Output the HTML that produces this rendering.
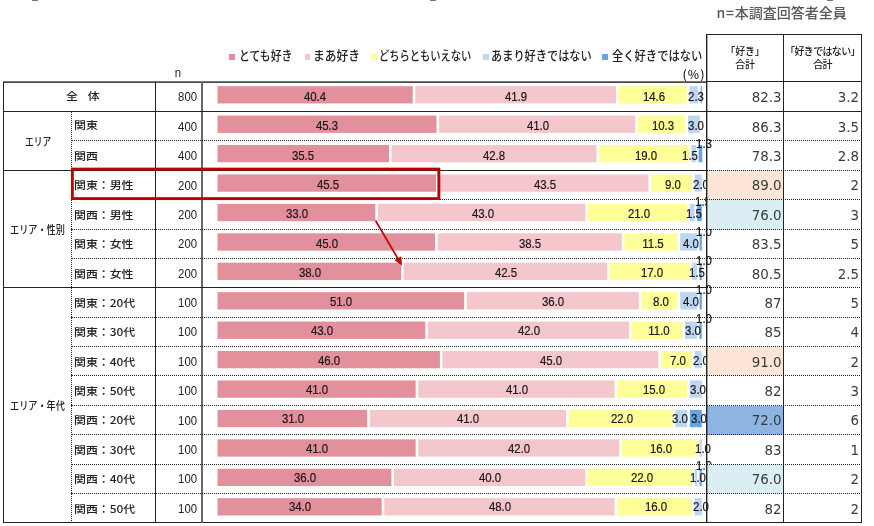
<!DOCTYPE html>
<html lang="ja"><head><meta charset="utf-8"><title>chart</title>
<style>
html,body{margin:0;padding:0;background:#fff;}
body{width:874px;height:526px;position:relative;overflow:hidden;font-family:"Liberation Sans","Noto Sans CJK JP",sans-serif;color:#222;}
.a{position:absolute;}
.lab{position:absolute;font-weight:500;font-family:"Noto Sans CJK JP","Liberation Sans",sans-serif;font-size:11px;line-height:14px;white-space:nowrap;color:#222;transform-origin:0 50%;}
.n{position:absolute;font-size:12.6px;line-height:14px;text-align:right;width:40px;color:#222;transform-origin:100% 50%;transform:scaleX(0.9);}
.seg{position:absolute;box-sizing:border-box;border-left:1px solid #fff;border-right:1px solid #fff;}
.v{position:absolute;font-size:12.7px;line-height:12px;white-space:nowrap;color:#1c1418;-webkit-text-stroke:0.2px #1c1418;transform:translateX(-50%) scaleX(0.9);}
.t{position:absolute;font-family:"DejaVu Sans","Liberation Sans",sans-serif;font-size:13.4px;line-height:16px;text-align:right;color:#3a3a3a;white-space:nowrap;}
.hl{position:absolute;background:#222;}
.dl{position:absolute;height:0;border-top:1px dotted #222;}
.dv{position:absolute;width:0;border-left:1px dotted #222;}
.lg{position:absolute;font-weight:500;font-family:"Noto Sans CJK JP","Liberation Sans",sans-serif;font-size:13px;line-height:16px;white-space:nowrap;color:#222;transform-origin:0 50%;}
.mk{position:absolute;width:5.6px;height:5.6px;}
</style></head><body>

<div class="a" style="left:32.2px;top:0;width:5.5px;height:1px;background:#777"></div>
<div class="a" style="left:430px;top:0;width:5.5px;height:1px;background:#777"></div>
<div class="a" style="left:827px;top:0;width:5.5px;height:1px;background:#777"></div>
<div class="lg" style="left:716.6px;top:4.3px;font-size:14px;color:#595959;letter-spacing:0" id="ntxt"><span style="letter-spacing:0.7px">n=</span>本調査回答者全員</div>
<svg class="a" style="left:0;top:0" width="874" height="526" viewBox="0 0 874 526">
<rect x="217.50" y="86.15" width="195.24" height="17.3" fill="#e2909b"/>
<rect x="415.34" y="86.15" width="200.61" height="17.3" fill="#f4c7cd"/>
<rect x="618.55" y="86.15" width="68.21" height="17.3" fill="#ffff99"/>
<rect x="689.36" y="86.15" width="8.55" height="17.3" fill="#bdd7f3"/>
<rect x="700.52" y="86.15" width="1.28" height="17.3" fill="#64a5ea"/>
<rect x="217.50" y="115.58" width="219.00" height="17.3" fill="#e2909b"/>
<rect x="439.11" y="115.58" width="196.25" height="17.3" fill="#f4c7cd"/>
<rect x="637.96" y="115.58" width="47.36" height="17.3" fill="#ffff99"/>
<rect x="687.91" y="115.58" width="11.95" height="17.3" fill="#bdd7f3"/>
<rect x="217.50" y="145.01" width="171.47" height="17.3" fill="#e2909b"/>
<rect x="391.57" y="145.01" width="204.98" height="17.3" fill="#f4c7cd"/>
<rect x="599.15" y="145.01" width="89.55" height="17.3" fill="#ffff99"/>
<rect x="691.30" y="145.01" width="4.67" height="17.3" fill="#bdd7f3"/>
<rect x="698.58" y="145.01" width="3.70" height="17.3" fill="#64a5ea"/>
<rect x="217.50" y="174.44" width="218.47" height="17.3" fill="#e2909b"/>
<rect x="438.57" y="174.44" width="209.87" height="17.3" fill="#f4c7cd"/>
<rect x="651.05" y="174.44" width="41.05" height="17.3" fill="#ffff99"/>
<rect x="694.70" y="174.44" width="7.10" height="17.3" fill="#bdd7f3"/>
<rect x="217.50" y="203.87" width="157.85" height="17.3" fill="#e2909b"/>
<rect x="377.95" y="203.87" width="207.45" height="17.3" fill="#f4c7cd"/>
<rect x="588.00" y="203.87" width="99.25" height="17.3" fill="#ffff99"/>
<rect x="689.85" y="203.87" width="4.67" height="17.3" fill="#bdd7f3"/>
<rect x="697.12" y="203.87" width="4.67" height="17.3" fill="#64a5ea"/>
<rect x="217.50" y="233.30" width="217.55" height="17.3" fill="#e2909b"/>
<rect x="437.65" y="233.30" width="184.12" height="17.3" fill="#f4c7cd"/>
<rect x="624.38" y="233.30" width="53.17" height="17.3" fill="#ffff99"/>
<rect x="680.15" y="233.30" width="16.80" height="17.3" fill="#bdd7f3"/>
<rect x="699.55" y="233.30" width="2.25" height="17.3" fill="#64a5ea"/>
<rect x="217.50" y="262.73" width="183.60" height="17.3" fill="#e2909b"/>
<rect x="403.70" y="262.73" width="203.52" height="17.3" fill="#f4c7cd"/>
<rect x="609.82" y="262.73" width="79.85" height="17.3" fill="#ffff99"/>
<rect x="692.27" y="262.73" width="4.67" height="17.3" fill="#bdd7f3"/>
<rect x="699.55" y="262.73" width="2.25" height="17.3" fill="#64a5ea"/>
<rect x="217.50" y="292.16" width="246.65" height="17.3" fill="#e2909b"/>
<rect x="466.75" y="292.16" width="172.00" height="17.3" fill="#f4c7cd"/>
<rect x="641.35" y="292.16" width="36.20" height="17.3" fill="#ffff99"/>
<rect x="680.15" y="292.16" width="16.80" height="17.3" fill="#bdd7f3"/>
<rect x="699.55" y="292.16" width="2.25" height="17.3" fill="#64a5ea"/>
<rect x="217.50" y="321.59" width="207.85" height="17.3" fill="#e2909b"/>
<rect x="427.95" y="321.59" width="201.10" height="17.3" fill="#f4c7cd"/>
<rect x="631.65" y="321.59" width="50.75" height="17.3" fill="#ffff99"/>
<rect x="685.00" y="321.59" width="11.95" height="17.3" fill="#bdd7f3"/>
<rect x="699.55" y="321.59" width="2.25" height="17.3" fill="#64a5ea"/>
<rect x="217.50" y="351.02" width="222.40" height="17.3" fill="#e2909b"/>
<rect x="442.50" y="351.02" width="215.65" height="17.3" fill="#f4c7cd"/>
<rect x="660.75" y="351.02" width="31.35" height="17.3" fill="#ffff99"/>
<rect x="694.70" y="351.02" width="7.10" height="17.3" fill="#bdd7f3"/>
<rect x="217.50" y="380.45" width="198.15" height="17.3" fill="#e2909b"/>
<rect x="418.25" y="380.45" width="196.25" height="17.3" fill="#f4c7cd"/>
<rect x="617.10" y="380.45" width="70.15" height="17.3" fill="#ffff99"/>
<rect x="689.85" y="380.45" width="11.95" height="17.3" fill="#bdd7f3"/>
<rect x="217.50" y="409.88" width="149.65" height="17.3" fill="#e2909b"/>
<rect x="369.75" y="409.88" width="196.25" height="17.3" fill="#f4c7cd"/>
<rect x="568.60" y="409.88" width="104.10" height="17.3" fill="#ffff99"/>
<rect x="675.30" y="409.88" width="11.95" height="17.3" fill="#bdd7f3"/>
<rect x="689.85" y="409.88" width="11.95" height="17.3" fill="#64a5ea"/>
<rect x="217.50" y="439.31" width="198.15" height="17.3" fill="#e2909b"/>
<rect x="418.25" y="439.31" width="201.10" height="17.3" fill="#f4c7cd"/>
<rect x="621.95" y="439.31" width="75.00" height="17.3" fill="#ffff99"/>
<rect x="699.55" y="439.31" width="2.25" height="17.3" fill="#bdd7f3"/>
<rect x="217.50" y="468.74" width="173.90" height="17.3" fill="#e2909b"/>
<rect x="394.00" y="468.74" width="191.40" height="17.3" fill="#f4c7cd"/>
<rect x="588.00" y="468.74" width="104.10" height="17.3" fill="#ffff99"/>
<rect x="694.70" y="468.74" width="2.25" height="17.3" fill="#bdd7f3"/>
<rect x="699.55" y="468.74" width="2.25" height="17.3" fill="#64a5ea"/>
<rect x="217.50" y="498.17" width="164.20" height="17.3" fill="#e2909b"/>
<rect x="384.30" y="498.17" width="230.20" height="17.3" fill="#f4c7cd"/>
<rect x="617.10" y="498.17" width="75.00" height="17.3" fill="#ffff99"/>
<rect x="694.70" y="498.17" width="7.10" height="17.3" fill="#bdd7f3"/>
</svg>
<div class="v" style="left:315.37px;top:91.00px">40.4</div>
<div class="v" style="left:515.95px;top:91.00px">41.9</div>
<div class="v" style="left:654.46px;top:91.00px">14.6</div>
<div class="v" style="left:695.94px;top:91.00px">2.3</div>
<div class="v" style="left:327.25px;top:120.31px">45.3</div>
<div class="v" style="left:537.53px;top:120.31px">41.0</div>
<div class="v" style="left:663.43px;top:120.31px">10.3</div>
<div class="v" style="left:696.19px;top:120.31px">3.0</div>
<div class="v" style="left:303.49px;top:149.62px">35.5</div>
<div class="v" style="left:494.37px;top:149.62px">42.8</div>
<div class="v" style="left:645.73px;top:149.62px">19.0</div>
<div class="v" style="left:690.30px;top:149.62px">1.5</div>
<div class="v" style="left:703.73px;top:137.62px">1.3</div>
<div class="v" style="left:327.74px;top:178.93px">45.5</div>
<div class="v" style="left:544.56px;top:178.93px">43.5</div>
<div class="v" style="left:673.38px;top:178.93px">9.0</div>
<div class="v" style="left:700.55px;top:178.93px">2.0</div>
<div class="v" style="left:297.43px;top:208.24px">33.0</div>
<div class="v" style="left:482.72px;top:208.24px">43.0</div>
<div class="v" style="left:639.42px;top:208.24px">21.0</div>
<div class="v" style="left:694.49px;top:208.24px">1.5</div>
<div class="v" style="left:702.76px;top:196.24px">1.5</div>
<div class="v" style="left:326.52px;top:237.55px">45.0</div>
<div class="v" style="left:530.01px;top:237.55px">38.5</div>
<div class="v" style="left:652.76px;top:237.55px">11.5</div>
<div class="v" style="left:690.85px;top:237.55px">4.0</div>
<div class="v" style="left:703.97px;top:225.55px">1.0</div>
<div class="v" style="left:309.55px;top:266.86px">38.0</div>
<div class="v" style="left:505.76px;top:266.86px">42.5</div>
<div class="v" style="left:651.55px;top:266.86px">17.0</div>
<div class="v" style="left:696.91px;top:266.86px">1.5</div>
<div class="v" style="left:703.97px;top:254.86px">1.0</div>
<div class="v" style="left:341.07px;top:296.17px">51.0</div>
<div class="v" style="left:553.05px;top:296.17px">36.0</div>
<div class="v" style="left:661.25px;top:296.17px">8.0</div>
<div class="v" style="left:690.85px;top:296.17px">4.0</div>
<div class="v" style="left:703.97px;top:284.17px">1.0</div>
<div class="v" style="left:321.68px;top:325.48px">43.0</div>
<div class="v" style="left:528.80px;top:325.48px">42.0</div>
<div class="v" style="left:658.82px;top:325.48px">11.0</div>
<div class="v" style="left:693.27px;top:325.48px">3.0</div>
<div class="v" style="left:703.97px;top:313.48px">1.0</div>
<div class="v" style="left:328.95px;top:354.79px">46.0</div>
<div class="v" style="left:550.62px;top:354.79px">45.0</div>
<div class="v" style="left:678.23px;top:354.79px">7.0</div>
<div class="v" style="left:700.55px;top:354.79px">2.0</div>
<div class="v" style="left:316.82px;top:384.10px">41.0</div>
<div class="v" style="left:516.67px;top:384.10px">41.0</div>
<div class="v" style="left:653.98px;top:384.10px">15.0</div>
<div class="v" style="left:698.12px;top:384.10px">3.0</div>
<div class="v" style="left:292.57px;top:413.41px">31.0</div>
<div class="v" style="left:468.18px;top:413.41px">41.0</div>
<div class="v" style="left:622.45px;top:413.41px">22.0</div>
<div class="v" style="left:679.50px;top:413.41px">3.0</div>
<div class="v" style="left:699.40px;top:413.41px">3.0</div>
<div class="v" style="left:316.82px;top:442.72px">41.0</div>
<div class="v" style="left:519.10px;top:442.72px">42.0</div>
<div class="v" style="left:661.25px;top:442.72px">16.0</div>
<div class="v" style="left:702.98px;top:442.72px">1.0</div>
<div class="v" style="left:304.70px;top:472.03px">36.0</div>
<div class="v" style="left:490.00px;top:472.03px">40.0</div>
<div class="v" style="left:641.85px;top:472.03px">22.0</div>
<div class="v" style="left:698.12px;top:472.03px">1.0</div>
<div class="v" style="left:703.98px;top:460.03px">1.0</div>
<div class="v" style="left:299.85px;top:501.34px">34.0</div>
<div class="v" style="left:499.70px;top:501.34px">48.0</div>
<div class="v" style="left:656.40px;top:501.34px">16.0</div>
<div class="v" style="left:700.55px;top:501.34px">2.0</div>
<div class="a" style="left:707px;top:170.56px;width:76.5px;height:29.39px;background:#fce4d6"></div>
<div class="a" style="left:707px;top:199.94px;width:76.5px;height:29.39px;background:#daeef3"></div>
<div class="a" style="left:707px;top:346.87px;width:76.5px;height:29.39px;background:#fce4d6"></div>
<div class="a" style="left:707px;top:405.64px;width:76.5px;height:29.39px;background:#8db4e2"></div>
<div class="a" style="left:707px;top:464.41px;width:76.5px;height:29.39px;background:#daeef3"></div>
<div class="hl" style="left:3px;top:81px;width:704px;height:1px;background:#777"></div>
<div class="hl" style="left:3px;top:82px;width:704px;height:1px;background:#4a4a4a"></div>
<div class="hl" style="left:3px;top:82px;width:1px;height:441px"></div>
<div class="hl" style="left:3px;top:522px;width:859px;height:1px"></div>
<div class="hl" style="left:155px;top:82px;width:1px;height:441px"></div>
<div class="hl" style="left:201px;top:82px;width:2px;height:441px;background:#666"></div>
<div class="hl" style="left:3px;top:110.98px;width:704px;height:1px"></div>
<div class="dl" style="left:71px;top:140.37px;width:636px"></div>
<div class="hl" style="left:3px;top:169.75px;width:704px;height:1px"></div>
<div class="dl" style="left:71px;top:199.14px;width:636px"></div>
<div class="dl" style="left:71px;top:228.53px;width:636px"></div>
<div class="dl" style="left:71px;top:257.91px;width:636px"></div>
<div class="hl" style="left:3px;top:287.30px;width:704px;height:1px"></div>
<div class="dl" style="left:71px;top:316.68px;width:636px"></div>
<div class="dl" style="left:71px;top:346.07px;width:636px"></div>
<div class="dl" style="left:71px;top:375.45px;width:636px"></div>
<div class="dl" style="left:71px;top:404.84px;width:636px"></div>
<div class="dl" style="left:71px;top:434.22px;width:636px"></div>
<div class="dl" style="left:71px;top:463.61px;width:636px"></div>
<div class="dl" style="left:71px;top:492.99px;width:636px"></div>
<div class="dv" style="left:71px;top:111.48px;height:411.39px"></div>
<div class="hl" style="left:706px;top:34px;width:1px;height:489px;background:#222"></div>
<div class="hl" style="left:707px;top:34px;width:1px;height:489px;background:rgba(0,0,0,0.33)"></div>
<div class="hl" style="left:783px;top:34px;width:1px;height:489px"></div>
<div class="hl" style="left:861px;top:34px;width:1px;height:489px"></div>
<div class="hl" style="left:706px;top:34px;width:156px;height:1px"></div>
<div class="hl" style="left:706px;top:81px;width:156px;height:1px"></div>
<div class="hl" style="left:707px;top:110.98px;width:155px;height:1px"></div>
<div class="dl" style="left:707px;top:140.37px;width:155px"></div>
<div class="dl" style="left:707px;top:169.75px;width:155px"></div>
<div class="dl" style="left:707px;top:199.14px;width:155px"></div>
<div class="dl" style="left:707px;top:228.53px;width:155px"></div>
<div class="dl" style="left:707px;top:257.91px;width:155px"></div>
<div class="dl" style="left:707px;top:287.30px;width:155px"></div>
<div class="dl" style="left:707px;top:316.68px;width:155px"></div>
<div class="dl" style="left:707px;top:346.07px;width:155px"></div>
<div class="dl" style="left:707px;top:375.45px;width:155px"></div>
<div class="dl" style="left:707px;top:404.84px;width:155px"></div>
<div class="dl" style="left:707px;top:434.22px;width:155px"></div>
<div class="dl" style="left:707px;top:463.61px;width:155px"></div>
<div class="dl" style="left:707px;top:492.99px;width:155px"></div>
<div class="lab" style="left:66.2px;top:89.00px;font-size:10.3px;transform:scaleX(1.155)">全<span style="letter-spacing:1.9px">&nbsp;&nbsp;</span>体</div>
<div class="lab gl" style="left:24.5px;top:133.87px;transform:scaleX(0.8)">エリア</div>
<div class="lab gl" style="left:9.5px;top:222.03px;transform:scaleX(0.83)">エリア・性別</div>
<div class="lab gl" style="left:9.5px;top:398.34px;transform:scaleX(0.83)">エリア・年代</div>
<div class="n" style="left:157.2px;top:90.40px">800</div>
<div class="t" style="left:707px;width:74.6px;top:90.20px">82.3</div>
<div class="t" style="left:784px;width:75px;top:90.20px">3.2</div>
<div class="lab rl" style="left:73.8px;top:118.38px;font-size:10.3px;transform:scaleX(1.155)">関東</div>
<div class="n" style="left:157.2px;top:119.78px">400</div>
<div class="t" style="left:707px;width:74.6px;top:119.58px">86.3</div>
<div class="t" style="left:784px;width:75px;top:119.58px">3.5</div>
<div class="lab rl" style="left:73.8px;top:148.97px;font-size:10.3px;transform:scaleX(1.155)">関西</div>
<div class="n" style="left:157.2px;top:149.17px">400</div>
<div class="t" style="left:707px;width:74.6px;top:148.97px">78.3</div>
<div class="t" style="left:784px;width:75px;top:148.97px">2.8</div>
<div class="lab rl" style="left:73.8px;top:178.35px;font-size:10.3px;transform:scaleX(1.155)">関東：男性</div>
<div class="n" style="left:157.2px;top:178.56px">200</div>
<div class="t" style="left:707px;width:74.6px;top:178.35px">89.0</div>
<div class="t" style="left:784px;width:75px;top:178.35px">2</div>
<div class="lab rl" style="left:73.8px;top:207.74px;font-size:10.3px;transform:scaleX(1.155)">関西：男性</div>
<div class="n" style="left:157.2px;top:207.94px">200</div>
<div class="t" style="left:707px;width:74.6px;top:207.74px">76.0</div>
<div class="t" style="left:784px;width:75px;top:207.74px">3</div>
<div class="lab rl" style="left:73.8px;top:237.12px;font-size:10.3px;transform:scaleX(1.155)">関東：女性</div>
<div class="n" style="left:157.2px;top:237.33px">200</div>
<div class="t" style="left:707px;width:74.6px;top:237.12px">83.5</div>
<div class="t" style="left:784px;width:75px;top:237.12px">5</div>
<div class="lab rl" style="left:73.8px;top:266.51px;font-size:10.3px;transform:scaleX(1.155)">関西：女性</div>
<div class="n" style="left:157.2px;top:266.71px">200</div>
<div class="t" style="left:707px;width:74.6px;top:266.51px">80.5</div>
<div class="t" style="left:784px;width:75px;top:266.51px">2.5</div>
<div class="lab rl" style="left:73.8px;top:295.90px;font-size:10.3px;transform:scaleX(1.155)">関東：20代</div>
<div class="n" style="left:157.2px;top:296.10px">100</div>
<div class="t" style="left:707px;width:74.6px;top:295.90px">87</div>
<div class="t" style="left:784px;width:75px;top:295.90px">5</div>
<div class="lab rl" style="left:73.8px;top:325.28px;font-size:10.3px;transform:scaleX(1.155)">関東：30代</div>
<div class="n" style="left:157.2px;top:325.48px">100</div>
<div class="t" style="left:707px;width:74.6px;top:325.28px">85</div>
<div class="t" style="left:784px;width:75px;top:325.28px">4</div>
<div class="lab rl" style="left:73.8px;top:354.67px;font-size:10.3px;transform:scaleX(1.155)">関東：40代</div>
<div class="n" style="left:157.2px;top:354.87px">100</div>
<div class="t" style="left:707px;width:74.6px;top:354.67px">91.0</div>
<div class="t" style="left:784px;width:75px;top:354.67px">2</div>
<div class="lab rl" style="left:73.8px;top:384.05px;font-size:10.3px;transform:scaleX(1.155)">関東：50代</div>
<div class="n" style="left:157.2px;top:384.25px">100</div>
<div class="t" style="left:707px;width:74.6px;top:384.05px">82</div>
<div class="t" style="left:784px;width:75px;top:384.05px">3</div>
<div class="lab rl" style="left:73.8px;top:413.44px;font-size:10.3px;transform:scaleX(1.155)">関西：20代</div>
<div class="n" style="left:157.2px;top:413.64px">100</div>
<div class="t" style="left:707px;width:74.6px;top:413.44px">72.0</div>
<div class="t" style="left:784px;width:75px;top:413.44px">6</div>
<div class="lab rl" style="left:73.8px;top:442.82px;font-size:10.3px;transform:scaleX(1.155)">関西：30代</div>
<div class="n" style="left:157.2px;top:443.02px">100</div>
<div class="t" style="left:707px;width:74.6px;top:442.82px">83</div>
<div class="t" style="left:784px;width:75px;top:442.82px">1</div>
<div class="lab rl" style="left:73.8px;top:472.21px;font-size:10.3px;transform:scaleX(1.155)">関西：40代</div>
<div class="n" style="left:157.2px;top:472.41px">100</div>
<div class="t" style="left:707px;width:74.6px;top:472.21px">76.0</div>
<div class="t" style="left:784px;width:75px;top:472.21px">2</div>
<div class="lab rl" style="left:73.8px;top:501.59px;font-size:10.3px;transform:scaleX(1.155)">関西：50代</div>
<div class="n" style="left:157.2px;top:501.79px">100</div>
<div class="t" style="left:707px;width:74.6px;top:501.59px">82</div>
<div class="t" style="left:784px;width:75px;top:501.59px">2</div>
<div class="n" style="left:141.2px;top:65.8px;">n</div>
<div class="mk" style="left:229.3px;top:54px;background:#e2909b"></div>
<div class="lg" id="lg0" style="left:239.0px;top:46.5px;transform:scaleX(0.834)">とても好き</div>
<div class="mk" style="left:304.6px;top:54px;background:#f4c7cd"></div>
<div class="lg" id="lg1" style="left:312.9px;top:46.5px;transform:scaleX(0.905)">まあ好き</div>
<div class="mk" style="left:371.2px;top:54px;background:#ffff99"></div>
<div class="lg" id="lg2" style="left:379.1px;top:46.5px;transform:scaleX(0.79)">どちらともいえない</div>
<div class="mk" style="left:483.3px;top:54px;background:#bdd7f3"></div>
<div class="lg" id="lg3" style="left:491.4px;top:46.5px;transform:scaleX(0.861)">あまり好きではない</div>
<div class="mk" style="left:602.3px;top:54px;background:#64a5ea"></div>
<div class="lg" id="lg4" style="left:612.3px;top:46.5px;transform:scaleX(0.868)">全く好きではない</div>
<div class="lg" style="left:682.4px;top:65.6px;font-size:12px;letter-spacing:1.2px" id="pct">(%)</div>
<div class="lg" style="left:707px;width:76px;top:43.8px;text-align:center;font-size:10px;line-height:13.5px;white-space:normal;letter-spacing:-0.15px" id="h1">「好き」<br>合計</div>
<div class="lg" style="left:784px;width:77px;top:43.8px;text-align:center;font-size:10px;line-height:13.5px;white-space:normal;letter-spacing:-0.64px" id="h2">「好きではない」<br>合計</div>
<svg class="a" style="left:0;top:0" width="874" height="526" viewBox="0 0 874 526"><rect x="72.35" y="169.1" width="366.5" height="29.5" fill="none" stroke="#c00000" stroke-width="2.9"/><line x1="375.5" y1="220.5" x2="399" y2="260.5" stroke="#c00000" stroke-width="1.7"/><polygon points="402,265.5 394.6,260.2 401.2,256.3" fill="#c00000"/></svg>
</body></html>
